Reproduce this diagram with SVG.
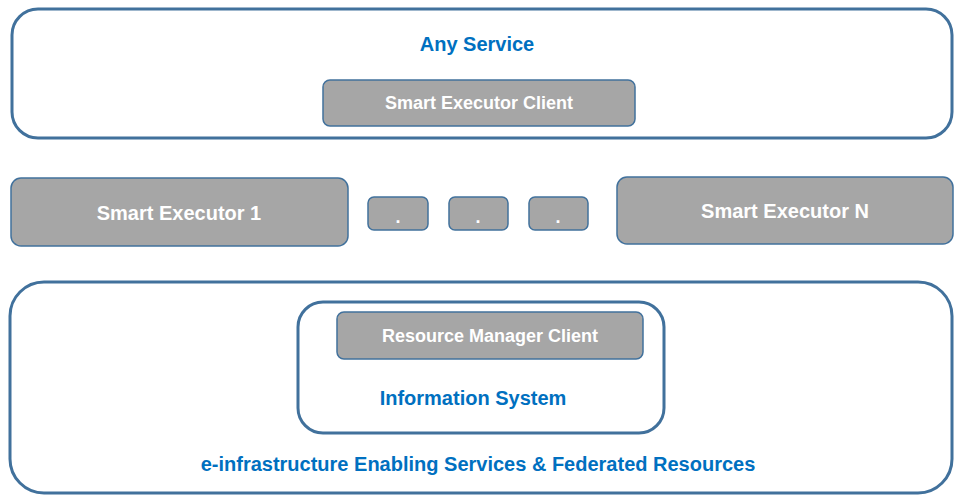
<svg xmlns="http://www.w3.org/2000/svg" width="954" height="495" viewBox="0 0 954 495">
<style>
.frame{fill:#ffffff;stroke:#41719c;stroke-width:3}
.box{fill:#a6a6a6;stroke:#41719c;stroke-width:1.5}
.lbl{font-family:"Liberation Sans",Arial,sans-serif;font-weight:bold;text-anchor:middle}
.blue{fill:#0070c0;font-size:20px}
.white{fill:#ffffff}
</style>
<rect width="954" height="495" fill="#ffffff"/>
<g id="any-service">
<rect class="frame" x="12" y="9" width="940" height="129" rx="26"/>
<text class="lbl blue" x="477" y="51">Any Service</text>
</g>
<g id="smart-executor-client">
<rect class="box" x="323" y="80" width="312" height="46" rx="7"/>
<text class="lbl white" x="479" y="109" font-size="18">Smart Executor Client</text>
</g>
<g id="smart-executor-1">
<rect class="box" x="11" y="178" width="337" height="68" rx="10"/>
<text class="lbl white" x="179" y="220" font-size="20">Smart Executor 1</text>
</g>
<g id="dot-1">
<rect class="box" x="368" y="197" width="60" height="33" rx="6"/>
<text class="lbl white" x="398" y="223" font-size="18">.</text>
</g>
<g id="dot-2">
<rect class="box" x="449" y="197" width="59" height="33" rx="6"/>
<text class="lbl white" x="478" y="223" font-size="18">.</text>
</g>
<g id="dot-3">
<rect class="box" x="529" y="197" width="59" height="33" rx="6"/>
<text class="lbl white" x="558" y="223" font-size="18">.</text>
</g>
<g id="smart-executor-n">
<rect class="box" x="617" y="177" width="336" height="67" rx="10"/>
<text class="lbl white" x="785" y="218" font-size="20">Smart Executor N</text>
</g>
<g id="e-infrastructure">
<rect class="frame" x="10" y="282" width="942" height="211" rx="34"/>
<text class="lbl blue" x="478" y="471">e-infrastructure Enabling Services &amp; Federated Resources</text>
</g>
<g id="information-system">
<rect class="frame" x="298" y="302" width="366" height="131" rx="25"/>
<text class="lbl blue" x="473" y="405">Information System</text>
</g>
<g id="resource-manager-client">
<rect class="box" x="337" y="312" width="306" height="47" rx="7"/>
<text class="lbl white" x="490" y="342" font-size="18">Resource Manager Client</text>
</g>
<g id="connectors"/>
</svg>
